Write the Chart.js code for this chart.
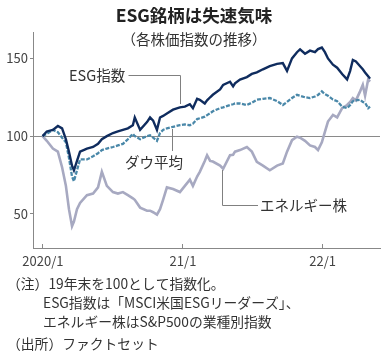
<!DOCTYPE html>
<html>
<head>
<meta charset="utf-8">
<script src="https://cdn.jsdelivr.net/npm/chart.js@4/dist/chart.umd.min.js"></script>
<style>
  html, body { margin: 0; padding: 0; background: #fff; }
  #wrap { width: 388px; height: 358px; position: relative; }
</style>
</head>
<body>
<div id="wrap"><canvas id="chart" width="388" height="358"></canvas></div>
<script>
const dates = [
  "2019-12-31","2020-01-11","2020-01-27","2020-02-09","2020-02-20","2020-03-01","2020-03-09",
  "2020-03-17","2020-03-22","2020-03-30","2020-04-07","2020-04-25","2020-05-11","2020-05-24",
  "2020-06-03","2020-06-16","2020-07-02","2020-07-15","2020-07-28","2020-08-10","2020-08-23",
  "2020-08-28","2020-09-11","2020-09-29","2020-10-07","2020-10-15","2020-10-25","2020-11-02",
  "2020-11-10","2020-11-20","2020-12-06","2020-12-24","2021-01-06","2021-01-19","2021-01-27",
  "2021-02-07","2021-02-14","2021-02-27","2021-03-05","2021-03-13","2021-03-20","2021-04-08",
  "2021-04-16","2021-05-04","2021-05-12","2021-05-17","2021-05-30","2021-06-17","2021-06-30",
  "2021-07-13","2021-07-29","2021-08-16","2021-09-04","2021-09-19","2021-09-30","2021-10-13",
  "2021-10-26","2021-11-03","2021-11-16","2021-11-29","2021-12-12","2021-12-20","2021-12-30",
  "2022-01-07","2022-01-15","2022-01-28","2022-02-08","2022-02-21","2022-03-06","2022-03-14",
  "2022-03-21","2022-03-29","2022-04-09","2022-04-16","2022-04-22","2022-04-30","2022-05-05"
];
const esg = [
  100,103,104,106.5,105,98,90,
  81,78,84,90,92,93,95,
  98,100,102,103,104,105,107,
  112,104,109,112,110,104,112,
  113,114.5,117,118.5,119,120.5,118,
  124,123.4,121,123,125,126.6,130,
  133,135,132,134,136.4,138,140,
  141,143,145,146.5,147,142,150,
  154,155.8,153,155,154,156,157,
  154,150,146,144,140,136.5,142,
  149,148,145,143,141,138.6,137
];
const dow = [
  100,101.5,104,102.5,99,96,86,
  74,71,78,85,85,87,89,
  91,92,93,94,95,98,101.5,
  100,98,100,100.5,99,97,102,
  104,105,106,107,107.5,107,108,
  111,111.5,112.5,113.5,114.7,116,118,
  118.5,120,120.5,121,121,120,121.5,
  123.4,124,124.5,122.5,120,122,124.5,
  126.6,126,125,124.5,125.5,126.5,128.8,
  127,126,123.5,122.5,119,118,120,
  122.5,123,123.4,122,121.5,118,119
];
const energy = [
  100,97,92,90,80,68,53,
  42,45,53,57,62,63,67,
  77,68,64,63,64,62,60,
  59,54,52,52,51,49.5,53,
  59,67,66,64,68,72,68,
  74,77,84,87.7,84,83.6,81,
  79,87.7,88,90,91,93,90,
  83.4,81,78,81,82.4,90,97.4,
  99.6,99,97,94,93,91,96,
  102.8,109.4,113.6,112,118,120,122,
  124.5,123,128.8,133,126,136.4,135
];
const tickDates = ["2020-01-01","2021-01-01","2022-01-01"];
const tickLabels = ["2020/1","21/1","22/1"];
const yTicks = [50,100,150];

const FONT = "'Noto Sans CJK JP','Noto Sans',sans-serif";
const base = Date.UTC(2020,0,1);
function dayOf(s){ const p = s.split("-"); return (Date.UTC(+p[0], +p[1]-1, +p[2]) - base) / 86400000; }
function pts(vals){ return vals.map((v,i) => ({x: dayOf(dates[i]), y: v})); }
const tickDays = tickDates.map(dayOf);

const annotate = {
  id: "annotate",
  afterDatasetsDraw(chart){
    const ctx = chart.ctx;
    ctx.save();
    // leaders
    ctx.strokeStyle = "#808080";
    ctx.lineWidth = 1;
    ctx.beginPath();
    ctx.moveTo(128.5,75.5); ctx.lineTo(180.5,75.5); ctx.lineTo(180.5,104);
    ctx.moveTo(172.5,129); ctx.lineTo(172.5,151);
    ctx.moveTo(258,205.5); ctx.lineTo(222.5,205.5); ctx.lineTo(222.5,170);
    ctx.stroke();
    ctx.fillStyle = "#333";
    ctx.textBaseline = "middle";
    ctx.textAlign = "left";
    ctx.font = "14.5px " + FONT;
    ctx.fillText("ESG指数", 69, 75);
    ctx.fillText("ダウ平均", 125, 162);
    ctx.fillText("エネルギー株", 260, 205);
    ctx.restore();
  },
  afterDraw(chart){
    const ctx = chart.ctx;
    ctx.save();
    ctx.fillStyle = "#222";
    ctx.textAlign = "center";
    ctx.textBaseline = "middle";
    ctx.font = "bold 17.5px " + FONT;
    ctx.fillText("ESG銘柄は失速気味", 194, 15);
    ctx.fillStyle = "#333";
    ctx.font = "14.5px " + FONT;
    ctx.fillText("（各株価指数の推移）", 194, 39);
    ctx.textAlign = "left";
    ctx.font = "13.8px " + FONT;
    ctx.fillText("（注）19年末を100として指数化。", 7, 284);
    ctx.fillText("ESG指数は「MSCI米国ESGリーダーズ」、", 43, 303);
    ctx.fillText("エネルギー株はS&P500の業種別指数", 43, 322);
    ctx.fillText("（出所）ファクトセット", 7, 344);
    ctx.restore();
  }
};

new Chart(document.getElementById("chart"), {
  type: "line",
  data: {
    datasets: [
      { label: "エネルギー株", data: pts(energy), borderColor: "#a7a9c1", borderWidth: 2.6, pointRadius: 0, tension: 0, order: 3 },
      { label: "ダウ平均", data: pts(dow), borderColor: "#4a88a9", borderWidth: 2.3, borderDash: [4, 1.5], pointRadius: 0, tension: 0, order: 2 },
      { label: "ESG指数", data: pts(esg), borderColor: "#0f2c5e", borderWidth: 2.4, pointRadius: 0, tension: 0, order: 1 }
    ]
  },
  options: {
    responsive: false,
    animation: false,
    layout: { padding: { left: 0, right: 8, top: 32, bottom: 80 } },
    plugins: { legend: { display: false }, tooltip: { enabled: false }, title: { display: false } },
    scales: {
      x: {
        type: "linear",
        min: -26, max: 881,
        afterBuildTicks(scale){ scale.ticks = tickDays.map(v => ({value: v})); },
        afterFit(scale){ scale.height = 30; },
        grid: { display: true, drawOnChartArea: false, drawTicks: true, tickLength: -4, color: "#888", tickColor: "#888" },
        border: { display: true, color: "#888", width: 1 },
        ticks: {
          autoSkip: false, maxRotation: 0, padding: 9, color: "#444",
          font: { family: FONT, size: 13 },
          callback: (v) => tickLabels[tickDays.indexOf(v)] || ""
        }
      },
      y: {
        min: 28, max: 167,
        afterBuildTicks(scale){ scale.ticks = yTicks.map(v => ({value: v})); },
        afterFit(scale){ scale.width = 33; },
        grid: {
          drawTicks: true, tickLength: 3,
          color: (c) => c.tick && c.tick.value === 100 ? "#8a8a8a" : "rgba(0,0,0,0)",
          tickColor: "#888"
        },
        border: { display: true, color: "#888", width: 1 },
        ticks: { padding: 2, color: "#444", font: { family: FONT, size: 13 } }
      }
    }
  },
  plugins: [annotate]
});
</script>
</body>
</html>
